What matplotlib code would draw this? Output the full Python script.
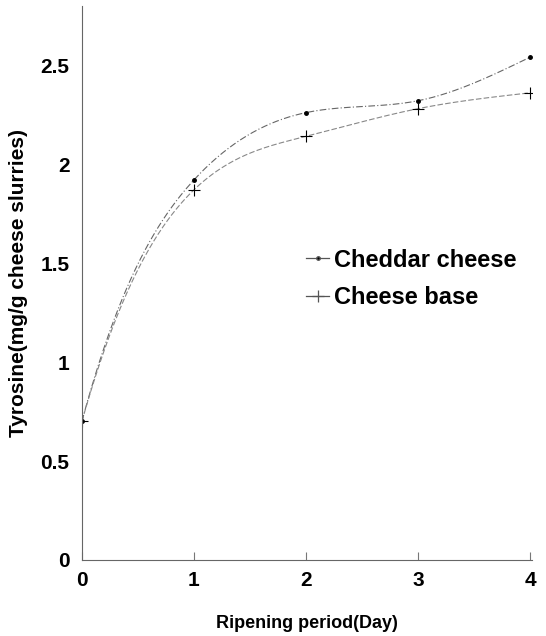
import matplotlib
matplotlib.use("Agg")
import matplotlib.pyplot as plt
import numpy as np

days = [0, 1, 2, 3, 4]
cheddar = [0.70, 1.92, 2.26, 2.32, 2.54]
cheese_base = [0.70, 1.87, 2.14, 2.28, 2.36]
x_ticks = [0, 1, 2, 3, 4]
y_ticks = [0, 0.5, 1, 1.5, 2, 2.5]
y_tick_labels = ["0", "0.5", "1", "1.5", "2", "2.5"]

plt.rcParams["font.family"] = ["Liberation Sans", "DejaVu Sans"]
plt.rcParams["font.weight"] = "bold"


def smooth_curve(x, y, start_slope, n=300):
    """Cubic spline through the points, clamped slope at the start, natural end."""
    x = np.asarray(x, float)
    y = np.asarray(y, float)
    k = len(x)
    h = np.diff(x)
    A = np.zeros((k, k))
    b = np.zeros(k)
    A[0, 0], A[0, 1] = 2 * h[0], h[0]
    b[0] = 6 * ((y[1] - y[0]) / h[0] - start_slope)
    A[-1, -1] = 1
    for i in range(1, k - 1):
        A[i, i - 1] = h[i - 1]
        A[i, i] = 2 * (h[i - 1] + h[i])
        A[i, i + 1] = h[i]
        b[i] = 6 * ((y[i + 1] - y[i]) / h[i] - (y[i] - y[i - 1]) / h[i - 1])
    m = np.linalg.solve(A, b)
    xs = np.linspace(x[0], x[-1], n)
    idx = np.clip(np.searchsorted(x, xs) - 1, 0, k - 2)
    x0, x1 = x[idx], x[idx + 1]
    hh = x1 - x0
    t0, t1 = x1 - xs, xs - x0
    ys = (m[idx] * t0**3 + m[idx + 1] * t1**3) / (6 * hh) \
        + (y[idx] / hh - m[idx] * hh / 6) * t0 \
        + (y[idx + 1] / hh - m[idx + 1] * hh / 6) * t1
    return xs, ys


fig = plt.figure(figsize=(5.46, 6.36), dpi=100)
ax = fig.add_axes([0.150, 0.1195, 0.825, 0.8715])

xs, ys = smooth_curve(days, cheddar, 2.1)
ax.plot(xs, ys, color="#666666", lw=0.8, ls=(0, (6, 2, 1, 2)))
ax.plot(days, cheddar, ls="none", marker=".", ms=5, color="black")

xs, ys = smooth_curve(days, cheese_base, 2.0)
ax.plot(xs, ys, color="#888888", lw=0.8, ls=(0, (5, 2)))
ax.plot(days, cheese_base, ls="none", marker="+", ms=8, mew=0.8, color="black")

# legend handles
h1, = ax.plot([], [], color="#555555", lw=0.9, marker=".", ms=5,
              markevery=[1], markerfacecolor="black")
h2, = ax.plot([], [], color="#555555", lw=0.9, marker="+", ms=9, mew=0.9,
              markevery=[0])
ax.legend([h1, h2], ["Cheddar cheese", "Cheese base"], loc="upper left",
          bbox_to_anchor=(0.45, 0.60), frameon=False,
          handlelength=1.0, handletextpad=0.2, labelspacing=0.6,
          prop={"weight": "bold", "size": 17})

ax.set_xlim(0, 4.02)
ax.set_ylim(0, 2.8)
ax.set_xticks(x_ticks)
ax.set_yticks(y_ticks)
ax.set_yticklabels(y_tick_labels)
ax.tick_params(axis="x", direction="in", length=6, width=0.8,
               colors="#777777", labelcolor="black", labelsize=15, pad=8)
ax.tick_params(axis="y", length=0, labelsize=15, pad=9)
for lab in ax.get_xticklabels() + ax.get_yticklabels():
    lab.set_fontweight("bold")

ax.spines["top"].set_visible(False)
ax.spines["right"].set_visible(False)
for s in ("left", "bottom"):
    ax.spines[s].set_color("#666666")
    ax.spines[s].set_linewidth(0.8)

ax.set_xlabel("Ripening period(Day)", fontsize=13, fontweight="bold", labelpad=18)
ax.set_ylabel("Tyrosine(mg/g cheese slurries)", fontsize=15, fontweight="bold",
              labelpad=9)

fig.savefig("out.png", dpi=100, facecolor="white")
